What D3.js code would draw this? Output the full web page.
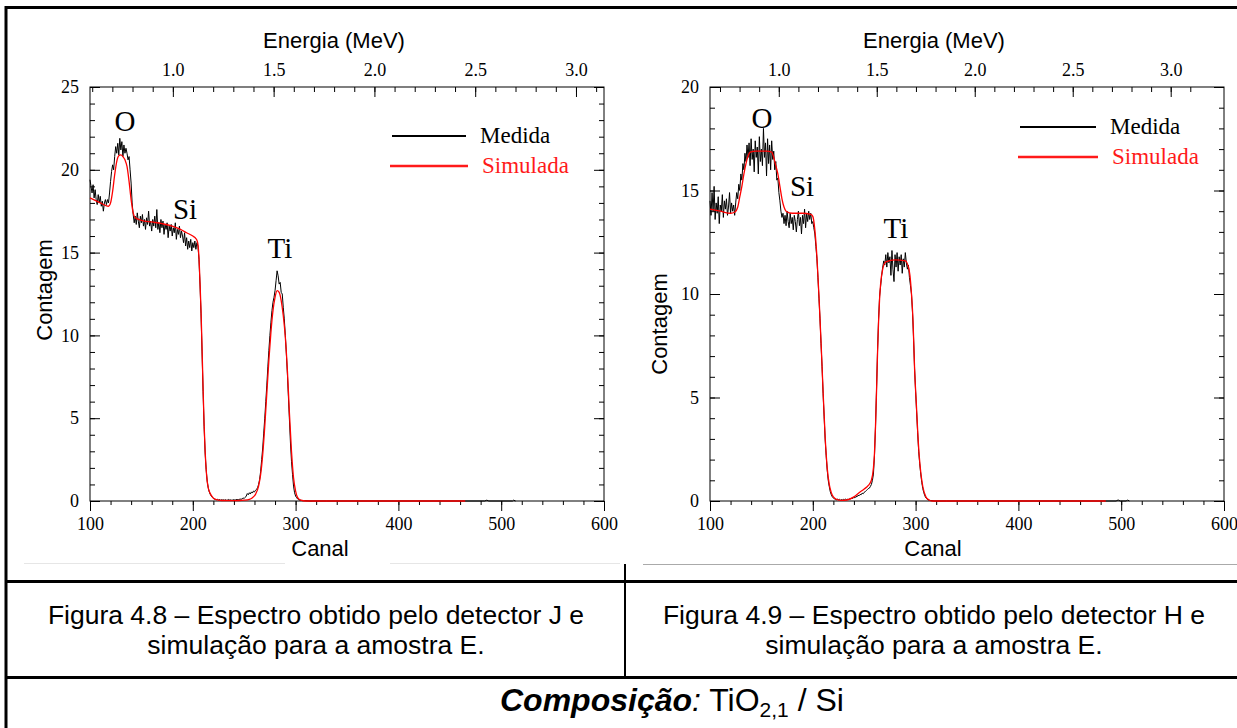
<!DOCTYPE html>
<html>
<head>
<meta charset="utf-8">
<script src="https://cdn.jsdelivr.net/npm/d3@7"></script>
<style>
  body { margin: 0; background: #fff; }
  svg { display: block; }
</style>
</head>
<body>
<svg id="fig" width="1237" height="728"></svg>
<script>
// ---- axis ticks and labels ----
const channelTicks = [100, 200, 300, 400, 500, 600];
const energyTicks = [1.0, 1.5, 2.0, 2.5, 3.0];
const countTicksJ = [0, 5, 10, 15, 20, 25];
const countTicksH = [0, 5, 10, 15, 20];
// energy calibration (MeV at channel 100 and 600) for each detector
const energyRangeJ = [0.589, 3.139];
const energyRangeH = [0.649, 3.272];
const seriesNames = ["Medida", "Simulada"];
const peakNames = ["O", "Si", "Ti"];

// ---- detector J: measured counts, one value per channel from 100 ----
const medidaJStart = 100;
const medidaJ = [
  19.4, 19.0, 18.6, 19.1, 18.3, 18.8, 18.2, 17.9, 18.5, 18.0,
  18.4, 17.8, 18.1, 17.5, 18.0, 18.2, 17.9, 18.2, 18.0, 18.6,
  19.3, 19.9, 20.3, 20.0, 20.8, 21.4, 21.0, 21.6, 20.9, 21.9,
  21.2, 21.7, 20.8, 21.5, 21.0, 21.3, 21.0, 20.6, 20.8, 20.0,
  19.2, 18.0, 17.3, 16.8, 17.2, 16.7, 17.4, 16.9, 16.5, 17.2,
  16.8, 17.3, 16.6, 17.0, 16.4, 17.1, 16.7, 17.5, 16.6, 16.9,
  16.3, 17.0, 16.6, 17.2, 16.5, 17.6, 16.4, 16.8, 16.2, 17.0,
  16.5, 16.9, 16.1, 16.7, 16.4, 16.8, 15.9, 16.6, 16.3, 16.7,
  16.0, 16.5, 16.2, 16.8, 15.8, 16.4, 16.1, 16.6, 15.9, 16.3,
  16.0, 15.6, 16.2, 15.4, 15.9, 15.2, 15.7, 15.3, 15.8, 15.1,
  15.6, 15.3, 15.7, 15.2, 15.6, 15.4, 14.6, 13.1, 11.3, 9.0,
  6.6, 4.5, 2.9, 1.9, 1.2, 0.8, 0.55, 0.4, 0.3, 0.22,
  0.15, 0.12, 0.1, 0.08, 0.1, 0.06, 0.09, 0.05, 0.08, 0.06,
  0.07, 0.05, 0.08, 0.04, 0.06, 0.09, 0.05, 0.07, 0.04, 0.06,
  0.08, 0.05, 0.07, 0.1, 0.06, 0.09, 0.12, 0.1, 0.14, 0.18,
  0.15, 0.22, 0.3, 0.45, 0.38, 0.5, 0.42, 0.55, 0.48, 0.6,
  0.55, 0.65, 0.7, 0.8, 1.0, 1.3, 1.8, 2.5, 3.2, 4.1,
  5.0, 6.0, 7.0, 8.1, 9.1, 10.0, 10.8, 11.5, 12.0, 12.3,
  12.7, 13.3, 13.9, 13.6, 13.1, 13.2, 12.6, 12.5, 11.7, 11.0,
  10.0, 8.9, 7.7, 6.3, 4.9, 3.5, 2.4, 1.6, 0.9, 0.5,
  0.3, 0.2, 0.12, 0.08, 0.05, 0.04, 0.03, 0.02, 0.02, 0.02,
  0.02, 0.01, 0.01, 0, 0, 0, 0, 0, 0, 0, 0
];
const medidaJTail = [[330, 0], [484, 0], [486, 0.05], [488, 0], [511, 0], [512, 0.05], [514, 0]];

// ---- detector J: simulated spectrum [channel, counts] ----
const simuladaJ = [
  [100, 18.3], [105, 18.15], [110, 18.0], [115, 17.85], [118, 17.8], [120, 18.0],
  [122, 18.7], [124, 19.7], [126, 20.5], [128, 20.85], [130, 20.9], [132, 20.8],
  [134, 20.6], [136, 20.2], [138, 19.3], [140, 18.2], [142, 17.4], [144, 17.1],
  [150, 16.95], [160, 16.85], [170, 16.75], [180, 16.6], [188, 16.4], [194, 16.2],
  [200, 16.0], [203, 15.85], [204, 15.75], [205, 15.5], [206, 14.7], [207, 13.2],
  [208, 11.5], [209, 9.2], [210, 6.8], [211, 4.6], [212, 3.0], [213, 1.9],
  [214, 1.2], [215, 0.8], [217, 0.45], [219, 0.25], [222, 0.1], [228, 0.03],
  [240, 0.02], [250, 0.05], [255, 0.1], [258, 0.2], [261, 0.4], [264, 0.9],
  [266, 1.6], [268, 2.8], [270, 4.5], [272, 6.5], [274, 8.5], [276, 10.2],
  [278, 11.5], [280, 12.3], [282, 12.7], [284, 12.6], [286, 12.1], [288, 11.2],
  [290, 9.9], [292, 7.9], [294, 5.3], [296, 3.0], [298, 1.4], [300, 0.6],
  [302, 0.2], [305, 0.05], [310, 0], [465, 0]
];

// ---- detector H: measured counts, one value per channel from 100 ----
const medidaHStart = 100;
const medidaH = [
  14.5, 13.8, 14.9, 14.0, 15.2, 13.6, 14.4, 13.9, 14.7, 13.4,
  14.3, 14.0, 14.8, 13.7, 14.5, 14.1, 14.6, 13.8, 14.2, 14.9,
  13.9, 14.4, 14.0, 14.3, 13.8, 14.4, 14.9, 14.6, 15.3, 15.0,
  15.8, 15.5, 16.3, 16.0, 16.8, 16.4, 17.2, 16.6, 17.3, 16.2,
  17.5, 16.5, 17.0, 15.9, 17.4, 16.6, 17.1, 15.8, 17.6, 16.4,
  17.0, 16.2, 18.0, 16.6, 17.3, 15.7, 17.5, 16.3, 17.2, 16.0,
  17.4, 16.5, 16.9, 16.0, 16.4, 15.5, 15.6, 14.9, 14.5, 14.0,
  13.7, 13.9, 13.4, 13.8, 13.3, 14.0, 13.5, 13.2, 13.9, 13.4,
  13.7, 13.1, 13.8, 13.5, 13.0, 13.6, 14.0, 13.3, 13.7, 12.9,
  13.8, 13.4, 14.1, 13.2, 13.9, 13.5, 14.0, 13.6, 13.9, 13.4,
  13.5, 13.2, 12.9, 12.3, 11.7, 10.8, 9.8, 8.8, 7.6, 6.5,
  5.2, 4.1, 3.0, 2.2, 1.5, 1.0, 0.7, 0.45, 0.3, 0.2,
  0.15, 0.1, 0.08, 0.06, 0.1, 0.05, 0.08, 0.04, 0.07, 0.05,
  0.08, 0.06, 0.1, 0.05, 0.09, 0.07, 0.12, 0.1, 0.15, 0.12,
  0.18, 0.15, 0.22, 0.2, 0.28, 0.25, 0.32, 0.3, 0.38, 0.35,
  0.42, 0.45, 0.5, 0.55, 0.6, 0.62, 0.7, 0.8, 1.0, 1.3,
  2.2, 3.6, 5.4, 7.3, 8.8, 9.9, 10.4, 10.9, 11.3, 11.6,
  11.4, 11.9, 11.3, 12.0, 11.5, 11.8, 10.9, 12.1, 11.2, 10.6,
  11.9, 11.3, 12.0, 11.1, 11.8, 11.4, 11.9, 11.0, 11.7, 11.3,
  12.0, 11.5, 11.2, 11.4, 10.8, 10.4, 10.0, 9.1, 7.9, 6.4,
  5.3, 4.3, 3.3, 2.4, 1.8, 1.3, 0.9, 0.6, 0.4, 0.25,
  0.15, 0.1, 0.06, 0.04, 0.03, 0.02, 0.02, 0.01, 0, 0, 0
];
const medidaHTail = [[330, 0], [495, 0], [497, 0.05], [499, 0], [505, 0], [506, 0.05], [508, 0]];

// ---- detector H: simulated spectrum [channel, counts] ----
const simuladaH = [
  [100, 14.1], [110, 14.0], [120, 13.9], [124, 13.95], [127, 14.2], [129, 14.7],
  [131, 15.2], [133, 15.8], [135, 16.3], [137, 16.65], [139, 16.85], [145, 16.9],
  [155, 16.9], [160, 16.85], [162, 16.6], [164, 16.2], [166, 15.8], [168, 15.2],
  [170, 14.6], [172, 14.2], [174, 14.0], [180, 13.9], [190, 13.9], [198, 13.85],
  [200, 13.75], [202, 13.1], [204, 11.8], [206, 9.9], [208, 7.7], [210, 5.3],
  [212, 3.1], [214, 1.6], [216, 0.8], [218, 0.4], [220, 0.2], [223, 0.08],
  [228, 0.03], [234, 0.06], [240, 0.2], [245, 0.4], [250, 0.58], [254, 0.75],
  [257, 1.0], [259, 1.6], [260, 2.3], [261, 3.6], [262, 5.3], [263, 7.2],
  [264, 8.7], [265, 9.8], [266, 10.5], [268, 11.2], [271, 11.55], [280, 11.65],
  [290, 11.6], [293, 11.3], [294.5, 10.9], [296, 10.0], [297.5, 8.7], [299, 6.4],
  [300.7, 4.7], [302, 3.4], [303.5, 2.2], [305, 1.4], [307, 0.7], [310, 0.2],
  [313, 0.05], [316, 0], [485, 0]
];

// ---- captions ----
const captionJ = ["Figura 4.8 \u2013 Espectro obtido pelo detector J e", "simula\u00e7\u00e3o para a amostra E."];
const captionH = ["Figura 4.9 \u2013 Espectro obtido pelo detector H e", "simula\u00e7\u00e3o para a amostra E."];

const SERIF = "'Liberation Serif', 'Times New Roman', serif";
const SANS = "'Liberation Sans', Arial, sans-serif";
const svg = d3.select("#fig");

function toPoints(start, values, tail) {
  return values.map((v, i) => [start + i, v]).concat(tail);
}

function drawPanel(o) {
  const g = svg.append("g");
  const x = d3.scaleLinear().domain([100, 600]).range([o.left, o.right]);
  const y = d3.scaleLinear().domain([0, o.yMax]).range([o.bottom, o.top]);
  const e = d3.scaleLinear().domain(o.energyRange).range([o.left, o.right]);

  const styleAxis = sel => {
    sel.select(".domain").remove();
    sel.selectAll("line").attr("stroke", "#000").attr("stroke-width", 1);
    sel.selectAll("text").attr("font-family", SERIF).attr("font-size", 18).attr("fill", "#000");
  };

  // bottom: channel axis, ticks pointing outward
  g.append("g").attr("transform", `translate(0,${o.bottom})`)
    .call(d3.axisBottom(x).tickValues(d3.range(100, 601, 20)).tickSize(4).tickFormat(""))
    .call(styleAxis);
  g.append("g").attr("transform", `translate(0,${o.bottom})`)
    .call(d3.axisBottom(x).tickValues(channelTicks).tickSize(10).tickPadding(6).tickFormat(d3.format("d")))
    .call(styleAxis);

  // top: energy axis, ticks pointing inward
  const eMinor = d3.range(6, 32).map(v => v / 10).filter(v => v >= o.energyRange[0] && v <= o.energyRange[1]);
  g.append("g").attr("transform", `translate(0,${o.top})`)
    .call(d3.axisTop(e).tickValues(eMinor).tickSize(-5).tickFormat(""))
    .call(styleAxis);
  g.append("g").attr("transform", `translate(0,${o.top})`)
    .call(d3.axisTop(e).tickValues(energyTicks).tickSize(-10).tickPadding(11).tickFormat(d3.format(".1f")))
    .call(styleAxis);

  // left and right: count axes, ticks pointing inward
  g.append("g").attr("transform", `translate(${o.left},0)`)
    .call(d3.axisLeft(y).tickValues(d3.range(0, o.yMax + 1, 1)).tickSize(-5).tickFormat(""))
    .call(styleAxis);
  g.append("g").attr("transform", `translate(${o.left},0)`)
    .call(d3.axisLeft(y).tickValues(o.countTicks).tickSize(-10).tickPadding(11).tickFormat(d3.format("d")))
    .call(styleAxis);
  g.append("g").attr("transform", `translate(${o.right},0)`)
    .call(d3.axisRight(y).tickValues(d3.range(0, o.yMax + 1, 1)).tickSize(-5).tickFormat(""))
    .call(styleAxis);
  g.append("g").attr("transform", `translate(${o.right},0)`)
    .call(d3.axisRight(y).tickValues(o.countTicks).tickSize(-10).tickFormat(""))
    .call(styleAxis);

  // frame
  g.append("rect")
    .attr("x", o.left).attr("y", o.top)
    .attr("width", o.right - o.left).attr("height", o.bottom - o.top)
    .attr("fill", "none").attr("stroke", "#000").attr("stroke-width", 1);

  // spectra
  g.append("path").datum(o.measured)
    .attr("d", d3.line().x(d => x(d[0])).y(d => y(d[1])).curve(d3.curveLinear))
    .attr("fill", "none").attr("stroke", "#000").attr("stroke-width", 1);
  g.append("path").datum(o.simulated)
    .attr("d", d3.line().x(d => x(d[0])).y(d => y(d[1])).curve(d3.curveMonotoneX))
    .attr("fill", "none").attr("stroke", "#ff0000").attr("stroke-width", 1.3);

  // element labels
  o.peaks.forEach((p, i) => {
    g.append("text").attr("x", p[0]).attr("y", p[1])
      .attr("text-anchor", "middle")
      .attr("font-family", SERIF).attr("font-size", 29).attr("fill", "#000")
      .text(peakNames[i]);
  });

  // legend
  const lg = o.legend;
  g.append("line").attr("x1", lg.x0).attr("x2", lg.x1).attr("y1", lg.y0).attr("y2", lg.y0)
    .attr("stroke", "#000").attr("stroke-width", 2);
  g.append("text").attr("x", lg.tx).attr("y", lg.y0 + 7)
    .attr("font-family", SERIF).attr("font-size", 23).attr("fill", "#000").text(seriesNames[0]);
  g.append("line").attr("x1", lg.x0 - 2).attr("x2", lg.x1 + 2).attr("y1", lg.y1).attr("y2", lg.y1)
    .attr("stroke", "#ff1a1a").attr("stroke-width", 2.5);
  g.append("text").attr("x", lg.tx + 2).attr("y", lg.y1 + 7)
    .attr("font-family", SERIF).attr("font-size", 23).attr("fill", "#ff1a1a").text(seriesNames[1]);

  // axis titles
  g.append("text").attr("x", o.energyTitleX).attr("y", 48).attr("text-anchor", "middle")
    .attr("font-family", SANS).attr("font-size", 22).attr("fill", "#000").text("Energia (MeV)");
  g.append("text").attr("x", o.canalTitleX).attr("y", 556).attr("text-anchor", "middle")
    .attr("font-family", SANS).attr("font-size", 22).attr("fill", "#000").text("Canal");
  g.append("text")
    .attr("transform", `translate(${o.countTitleX},${o.countTitleY}) rotate(-90)`)
    .attr("text-anchor", "middle")
    .attr("font-family", SANS).attr("font-size", 22).attr("fill", "#000").text("Contagem");
}

drawPanel({
  left: 90, right: 604, top: 87, bottom: 501, yMax: 25,
  countTicks: countTicksJ, energyRange: energyRangeJ,
  measured: toPoints(medidaJStart, medidaJ, medidaJTail),
  simulated: simuladaJ,
  peaks: [[125, 131], [185, 219], [280, 258]],
  legend: { x0: 392, x1: 466, y0: 136, y1: 166, tx: 480 },
  energyTitleX: 334, canalTitleX: 320, countTitleX: 52, countTitleY: 290
});

drawPanel({
  left: 710, right: 1224, top: 87, bottom: 501, yMax: 20,
  countTicks: countTicksH, energyRange: energyRangeH,
  measured: toPoints(medidaHStart, medidaH, medidaHTail),
  simulated: simuladaH,
  peaks: [[762, 128], [802, 196], [896, 238]],
  legend: { x0: 1020, x1: 1096, y0: 127, y1: 157, tx: 1110 },
  energyTitleX: 934, canalTitleX: 933, countTitleX: 667, countTitleY: 324
});

// ---- table rules ----
const rules = svg.append("g");
rules.append("line").attr("x1", 6).attr("x2", 1237).attr("y1", 7.5).attr("y2", 7.5).attr("stroke", "#000").attr("stroke-width", 3);
rules.append("line").attr("x1", 6).attr("x2", 6).attr("y1", 6).attr("y2", 728).attr("stroke", "#000").attr("stroke-width", 3);
rules.append("line").attr("x1", 24).attr("x2", 285).attr("y1", 563.5).attr("y2", 563.5).attr("stroke", "#e6e6e6").attr("stroke-width", 1);
rules.append("line").attr("x1", 390).attr("x2", 620).attr("y1", 563.5).attr("y2", 563.5).attr("stroke", "#e6e6e6").attr("stroke-width", 1);
rules.append("line").attr("x1", 643).attr("x2", 1237).attr("y1", 564.5).attr("y2", 564.5).attr("stroke", "#aaaaaa").attr("stroke-width", 1);
rules.append("line").attr("x1", 6).attr("x2", 1237).attr("y1", 581.5).attr("y2", 581.5).attr("stroke", "#000").attr("stroke-width", 3);
rules.append("line").attr("x1", 625).attr("x2", 625).attr("y1", 564).attr("y2", 677).attr("stroke", "#000").attr("stroke-width", 2);
rules.append("line").attr("x1", 6).attr("x2", 1237).attr("y1", 677.5).attr("y2", 677.5).attr("stroke", "#000").attr("stroke-width", 3);

// ---- captions ----
const cap = svg.append("g").attr("font-family", SANS).attr("font-size", 26.5).attr("fill", "#000").attr("text-anchor", "middle");
captionJ.forEach((t, i) => cap.append("text").attr("x", 316).attr("y", 624 + i * 30).text(t));
captionH.forEach((t, i) => cap.append("text").attr("x", 934).attr("y", 624 + i * 30).text(t));

const comp = svg.append("text").attr("x", 500).attr("y", 711).attr("text-anchor", "start")
  .attr("font-family", SANS).attr("font-size", 32).attr("fill", "#000");
comp.append("tspan").attr("font-weight", "bold").attr("font-style", "italic").text("Composi\u00e7\u00e3o");
comp.append("tspan").attr("font-style", "italic").text(":");
comp.append("tspan").text(" TiO");
comp.append("tspan").attr("font-size", 21).attr("dy", 6).text("2,1");
comp.append("tspan").attr("dy", -6).text(" / Si");
</script>
</body>
</html>
